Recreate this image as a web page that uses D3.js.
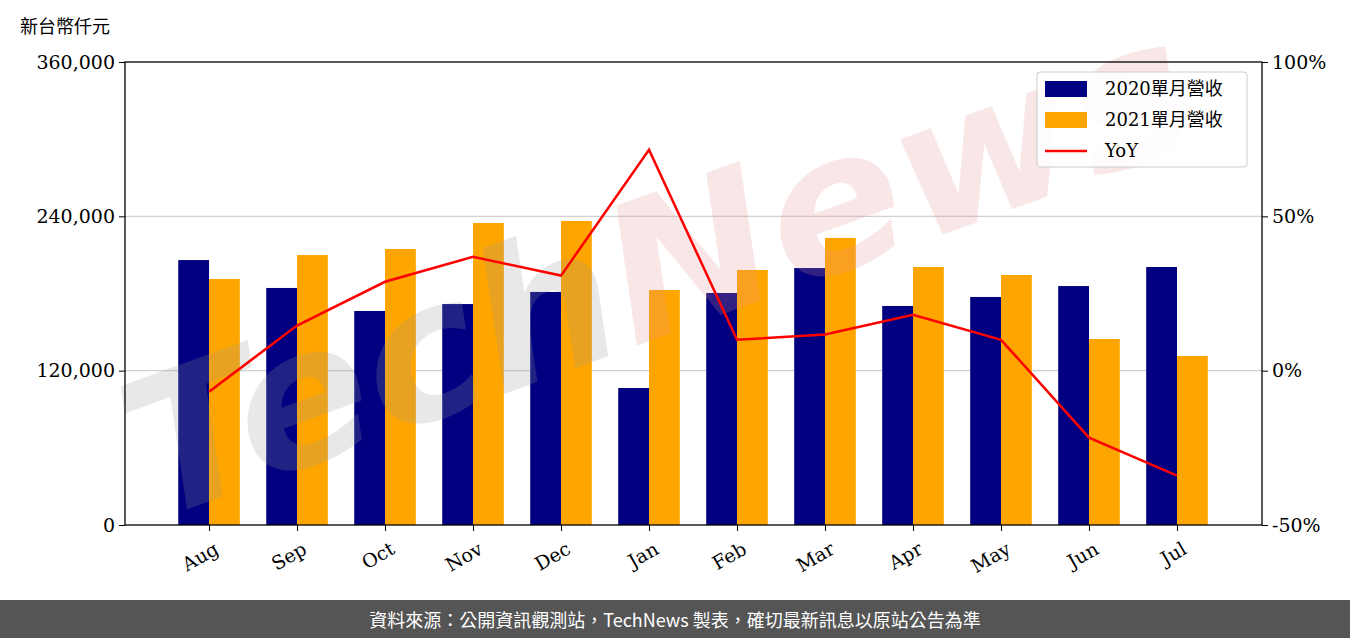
<!DOCTYPE html>
<html><head><meta charset="utf-8">
<script src="https://cdn.jsdelivr.net/npm/d3@7"></script>
<style>body{margin:0;background:#fff;}svg{display:block;}</style>
</head><body>
<svg id="c" width="1350" height="638"></svg>
<script>
const months = ['Aug','Sep','Oct','Nov','Dec','Jan','Feb','Mar','Apr','May','Jun','Jul'];
const rev2020 = [206000,184300,166400,171800,181200,106500,180400,199800,170300,177300,185800,200600];
const rev2021 = [191300,209900,214600,234800,236400,182700,198300,223200,200600,194400,144600,131400];
const yoy = [-6.8,14.6,28.8,36.9,30.8,71.6,10.0,11.7,18.1,10.0,-21.7,-34.0];
const leftTicks = [0,120000,240000,360000];
const rightTicks = [-50,0,50,100];

const SERIF = "'DejaVu Serif', serif";
const CJK = "'Noto Sans CJK TC', 'Noto Sans CJK SC', sans-serif";
const L = 125, R = 1262, T = 62, B = 525;
const svg = d3.select('#c');

const x = d3.scaleLinear().domain([-0.955, 11.966]).range([L, R]);
const y = d3.scaleLinear().domain([0, 360000]).range([B, T]);
const y2 = d3.scaleLinear().domain([-50, 100]).range([B, T]);
const bw = x(0.35) - x(0);

/* grid */
svg.append('g').selectAll('line').data([120000, 240000]).join('line')
  .attr('x1', L).attr('x2', R).attr('y1', d => y(d)).attr('y2', d => y(d))
  .attr('stroke', '#d0d0d0').attr('stroke-width', 1.2);

/* bars */
svg.append('g').selectAll('rect').data(rev2020).join('rect')
  .attr('x', (d, i) => x(i) - bw).attr('width', bw)
  .attr('y', d => y(d)).attr('height', d => B - y(d)).attr('fill', '#000080');
svg.append('g').selectAll('rect').data(rev2021).join('rect')
  .attr('x', (d, i) => x(i)).attr('width', bw)
  .attr('y', d => y(d)).attr('height', d => B - y(d)).attr('fill', '#ffa500');

/* watermark (on top, translucent) */
const wmt = svg.append('text').attr('transform', 'translate(680,330) rotate(-20)')
  .attr('text-anchor', 'middle').style('font-family', "'DejaVu Sans', sans-serif")
  .style('font-size', '190px').style('font-weight', 'bold').style('font-style', 'italic')
  .attr('opacity', 0.22).attr('textLength', 1120).attr('lengthAdjust', 'spacingAndGlyphs');
wmt.append('tspan').attr('fill', '#9a9a9a').text('Tech');
wmt.append('tspan').attr('fill', '#e89090').text('News');

/* yoy line */
svg.append('path').datum(yoy)
  .attr('fill', 'none').attr('stroke', '#ff0000').attr('stroke-width', 2.5)
  .attr('d', d3.line().x((d, i) => x(i)).y(d => y2(d)));

/* frame */
svg.append('rect').attr('x', L).attr('y', T).attr('width', R - L).attr('height', B - T)
  .attr('fill', 'none').attr('stroke', '#000').attr('stroke-width', 1.3);

/* axes */
const styleAx = ax => {
  ax.select('.domain').remove();
  ax.selectAll('text').style('font-family', SERIF).style('font-size', '19px').attr('fill', '#000');
};
svg.append('g').attr('transform', `translate(${L},0)`)
  .call(d3.axisLeft(y).tickValues(leftTicks).tickFormat(d3.format(',')).tickSize(6).tickPadding(4))
  .call(styleAx);
svg.append('g').attr('transform', `translate(${R},0)`)
  .call(d3.axisRight(y2).tickValues(rightTicks).tickFormat(d => d + '%').tickSize(6).tickPadding(4))
  .call(styleAx);
const xa = svg.append('g').attr('transform', `translate(0,${B})`)
  .call(d3.axisBottom(x).tickValues(d3.range(12)).tickFormat(i => months[i]).tickSize(6))
  .call(styleAx);
xa.selectAll('text').attr('text-anchor', 'end').attr('dy', 0)
  .attr('transform', 'translate(6,20) rotate(-30)');

/* unit label */
svg.append('text').attr('x', 20).attr('y', 33).style('font-family', CJK)
  .style('font-size', '18px').text('新台幣仟元');

/* legend */
const lg = svg.append('g').attr('transform', 'translate(1037,72)');
lg.append('rect').attr('width', 210).attr('height', 95).attr('rx', 3)
  .attr('fill', '#fff').attr('fill-opacity', 0.85).attr('stroke', '#ccc');
const items = [{ t: '2020單月營收', c: '#000080', k: 'bar' }, { t: '2021單月營收', c: '#ffa500', k: 'bar' }, { t: 'YoY', c: '#ff0000', k: 'line' }];
items.forEach((d, i) => {
  const cy = 17 + i * 31;
  if (d.k === 'bar') lg.append('rect').attr('x', 8).attr('y', cy - 8).attr('width', 42).attr('height', 16).attr('fill', d.c);
  else lg.append('line').attr('x1', 8).attr('x2', 50).attr('y1', cy).attr('y2', cy).attr('stroke', d.c).attr('stroke-width', 2.5);
  lg.append('text').attr('x', 68).attr('y', cy + 6).style('font-family', `${SERIF}, ${CJK}`)
    .style('font-size', '18px').text(d.t);
});

/* footer */
svg.append('rect').attr('x', 0).attr('y', 600).attr('width', 1350).attr('height', 38).attr('fill', '#555');
svg.append('text').attr('x', 675).attr('y', 627).attr('text-anchor', 'middle').attr('fill', '#fff')
  .style('font-family', CJK).style('font-size', '18px')
  .text('資料來源：公開資訊觀測站，TechNews 製表，確切最新訊息以原站公告為準');
</script>
</body></html>
